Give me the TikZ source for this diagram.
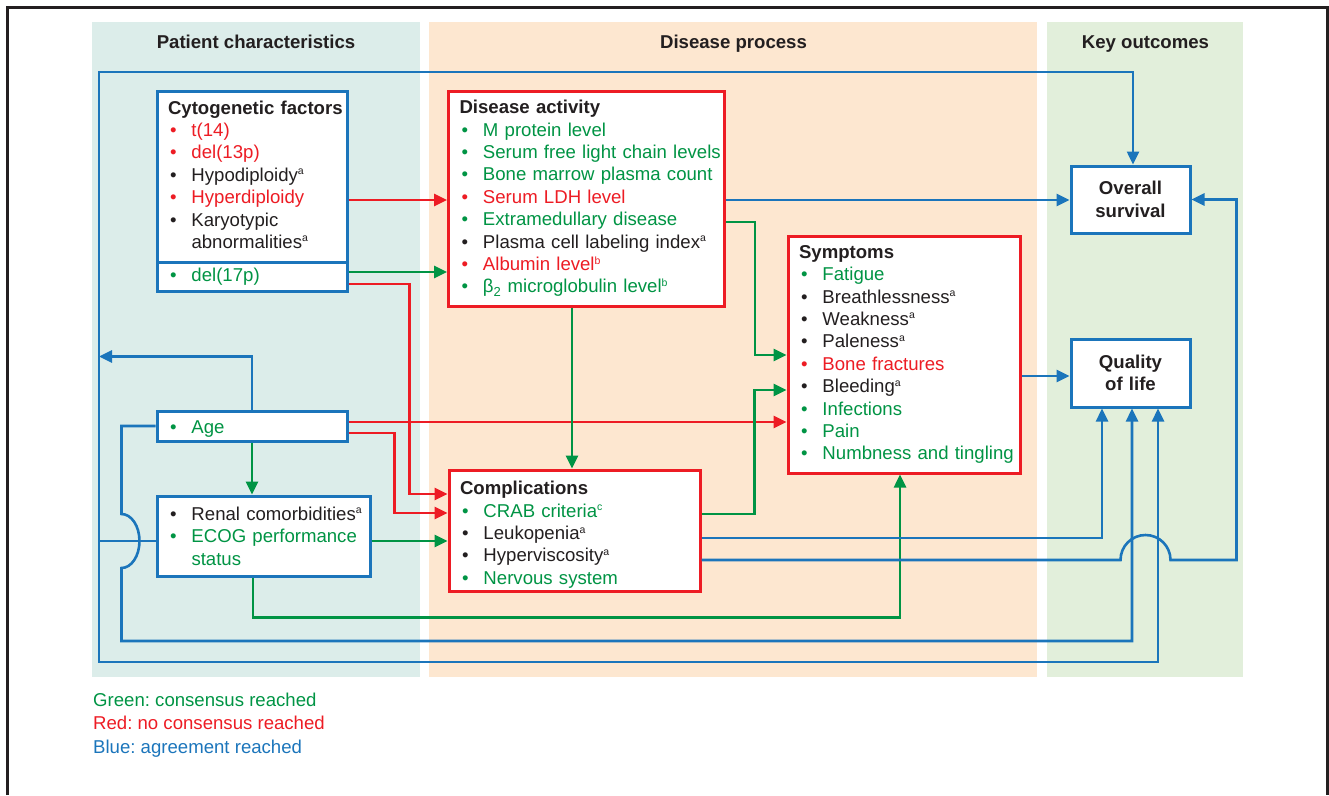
\documentclass[tikz,border=0pt]{standalone}
\usepackage{fontspec}
\setmainfont{Liberation Sans}
\usetikzlibrary{arrows.meta}

\definecolor{cblue}{RGB}{27,117,187}
\definecolor{cred}{RGB}{237,28,36}
\definecolor{cgreen}{RGB}{0,148,68}
\definecolor{ink}{RGB}{35,31,32}
\definecolor{cteal}{RGB}{220,237,234}
\definecolor{cpeach}{RGB}{253,231,208}
\definecolor{clime}{RGB}{226,239,219}

% lineas de las cajas
\newcommand{\itm}[2]{\mbox{\color{#1}\makebox[23.5pt][l]{\hspace{2pt}\textbullet}#2}}
\newcommand{\hd}[1]{\mbox{\bfseries #1}}
\newcommand{\spr}[1]{\raisebox{6.5pt}{\fontsize{10.5}{10.5}\selectfont #1}}
\frenchspacing

\tikzset{
  box/.style={draw, line width=3pt, fill=white, text=ink, align=left,
    inner xsep=11pt, inner ysep=0pt, font=\fontsize{18.6}{22.4}\selectfont},
  bluebox/.style={box, draw=cblue},
  redbox/.style={box, draw=cred},
  outbox/.style={bluebox, align=center, text width=97pt,
    font=\bfseries\fontsize{18.6}{22.4}\selectfont},
  head/.style={inner sep=0pt, text=ink, font=\bfseries\fontsize{18.6}{22.4}\selectfont},
  wire/.style={line width=2.6pt},
  arr/.style={-{Triangle[length=13pt,width=12pt]}},
  arrs/.style={{Triangle[length=13pt,width=12pt]}-{Triangle[length=13pt,width=12pt]}},
}

\begin{document}
\begin{tikzpicture}[x=1pt,y=-1pt]
\useasboundingbox (0,0) rectangle (1329,795);

% Marco
\draw[ink, line width=3pt] (7,795) -- (7,7) -- (1327,7) -- (1327,795);

% Columnas
\fill[cteal] (92,22) rectangle (420,677);
\fill[cpeach] (429,22) rectangle (1037,677);
\fill[clime] (1047,22) rectangle (1243,677);
\node[head, anchor=base] (hpat) at (256,48.3) {Patient characteristics};
\node[head, anchor=base] (hdis) at (733.5,48.3) {Disease process};
\node[head, anchor=base] (hkey) at (1145.5,48.3) {Key outcomes};

% Caracteristicas del paciente
\node[bluebox, text width=168pt, minimum width=190pt, minimum height=171pt] (cyto) at (252,176.5)
  {\hd{Cytogenetic factors}\\
   \itm{cred}{t(14)}\\
   \itm{cred}{del(13p)}\\
   \itm{ink}{Hypodiploidy\spr{a}}\\
   \itm{cred}{Hyperdiploidy}\\
   \itm{ink}{Karyotypic}\\
   \hspace*{23.5pt}abnormalities\spr{a}\rule[-4pt]{0pt}{4pt}};
\node[bluebox, text width=168pt, minimum width=190pt, minimum height=29pt] (del17) at (252,276.5)
  {\itm{cgreen}{del(17p)}};
\node[bluebox, text width=168pt, minimum width=190pt, minimum height=30pt] (age) at (252,426)
  {\rule{0pt}{19.5pt}\itm{cgreen}{Age}};
\node[bluebox, text width=191pt, minimum width=213pt, minimum height=80pt] (renal) at (263.5,536)
  {\itm{ink}{Renal comorbidities\spr{a}}\\
   \itm{cgreen}{ECOG performance}\\
   \hspace*{23.5pt}\textcolor{cgreen}{status}};

% Proceso de la enfermedad
\node[redbox, text width=254pt, minimum width=276pt, minimum height=215pt] (act) at (586.5,198.5)
  {\hd{Disease activity}\\
   \itm{cgreen}{M protein level}\\
   \itm{cgreen}{Serum free light chain levels}\\
   \itm{cgreen}{Bone marrow plasma count}\\
   \itm{cred}{Serum LDH level}\\
   \itm{cgreen}{Extramedullary disease}\\
   \itm{ink}{Plasma cell labeling index\spr{a}}\\
   \itm{cred}{Albumin level\spr{b}}\\
   \itm{cgreen}{β\textsubscript{2} microglobulin level\spr{b}}};
\node[redbox, text width=210pt, minimum width=232pt, minimum height=237pt] (symp) at (904,354.5)
  {\hd{Symptoms}\\
   \itm{cgreen}{Fatigue}\\
   \itm{ink}{Breathlessness\spr{a}}\\
   \itm{ink}{Weakness\spr{a}}\\
   \itm{ink}{Paleness\spr{a}}\\
   \itm{cred}{Bone fractures}\\
   \itm{ink}{Bleeding\spr{a}}\\
   \itm{cgreen}{Infections}\\
   \itm{cgreen}{Pain}\\
   \itm{cgreen}{Numbness and tingling}};
\node[redbox, text width=229pt, minimum width=251pt, minimum height=121pt] (comp) at (574.5,530.5)
  {\rule{0pt}{22pt}\hd{Complications}\\
   \itm{cgreen}{CRAB criteria\spr{c}}\\
   \itm{ink}{Leukopenia\spr{a}}\\
   \itm{ink}{Hyperviscosity\spr{a}}\\
   \itm{cgreen}{Nervous system}};

% Resultados clave
\node[outbox, minimum width=119pt, minimum height=67pt] (os) at (1130.5,199.5) {Overall\\survival};
\node[outbox, minimum width=119pt, minimum height=68pt] (qol) at (1130.5,373) {Quality\\of life};

% Conectores hacia disease activity y complications
\draw[wire, cred, arr] ([yshift=-23.5pt]cyto.east) coordinate (a1) -- (a1 -| act.west);
\draw[wire, cgreen, arr] ([yshift=4.5pt]del17.east) coordinate (a2) -- (a2 -| act.west);
\draw[wire, cred, arr] ([yshift=-7.5pt]del17.east) -- ++(61,0) |- ([yshift=36.5pt]comp.west);
\draw[wire, cred, arr] ([yshift=4pt]age.east) coordinate (a3) -- (a3 -| symp.west);
\draw[wire, cred, arr] ([yshift=-7pt]age.east) -- ++(46,0) |- ([yshift=17.5pt]comp.west);
\draw[wire, cgreen, arr] (age.south) -- (age.south |- renal.north);
\draw[wire, cgreen, arr] ([yshift=-5pt]renal.east) coordinate (a4) -- (a4 -| comp.west);
\draw[wire, cgreen, arr] ([xshift=-10.5pt]renal.south) -- ++(0,40) -| ([xshift=-4pt]symp.south);

% Conectores hacia symptoms
\draw[wire, cgreen, arr] ([xshift=-14.5pt]act.south) coordinate (a5) -- (a5 |- comp.north);
\draw[wire, cgreen, arr] ([yshift=-23.5pt]act.east) -- ++(29,0) |- ([yshift=-0.5pt]symp.west);
\draw[wire, cgreen, arr] ([yshift=16.5pt]comp.east) -- ++(53,0) |- ([yshift=-35.5pt]symp.west);

% Conectores hacia los resultados
\draw[wire, cblue, arr] ([yshift=-1.5pt]act.east) coordinate (a6) -- (a6 -| os.west);
\draw[wire, cblue, arr] ([yshift=-21.5pt]symp.east) coordinate (a8) -- (a8 -| qol.west);
\draw[wire, cblue, arr] ([yshift=-7.5pt]comp.east) -| ([xshift=-28.5pt]qol.south);
\draw[wire, cblue, arr] ([yshift=-29.5pt]comp.east) coordinate (a7)
  -- ([xshift=-10pt]a7 -| qol.south) arc[start angle=180, end angle=360, radius=25]
  -- ++(66,0) |- (os.east);

% Bucles azules
\coordinate (lt) at (99,72);
\coordinate (lb) at (99,662);
\draw[wire, cblue, arrs] ([xshift=2.5pt]os.north) |- (lt) -- (lb) -| ([xshift=27.5pt]qol.south);
\draw[wire, cblue, arr] (age.north) -- ++(0,-53) coordinate (a9) -- (a9 -| lt);
\draw[wire, cblue] ([yshift=-5pt]renal.west) coordinate (a10) -- (a10 -| lt);
\draw[wire, cblue, arr] (age.west) -- ++(-34,0) -- ++(0,88)
  arc[start angle=-90, end angle=90, x radius=18, y radius=27]
  -- ++(0,73) -| ([xshift=1.5pt]qol.south);

% Leyenda
\node[anchor=north west, align=left, inner sep=0pt, font=\fontsize{18.6}{23.3}\selectfont] (key) at (93,693)
  {\textcolor{cgreen}{Green: consensus reached}\\
   \textcolor{cred}{Red: no consensus reached}\\
   \textcolor{cblue}{Blue: agreement reached}};
\end{tikzpicture}
\end{document}
